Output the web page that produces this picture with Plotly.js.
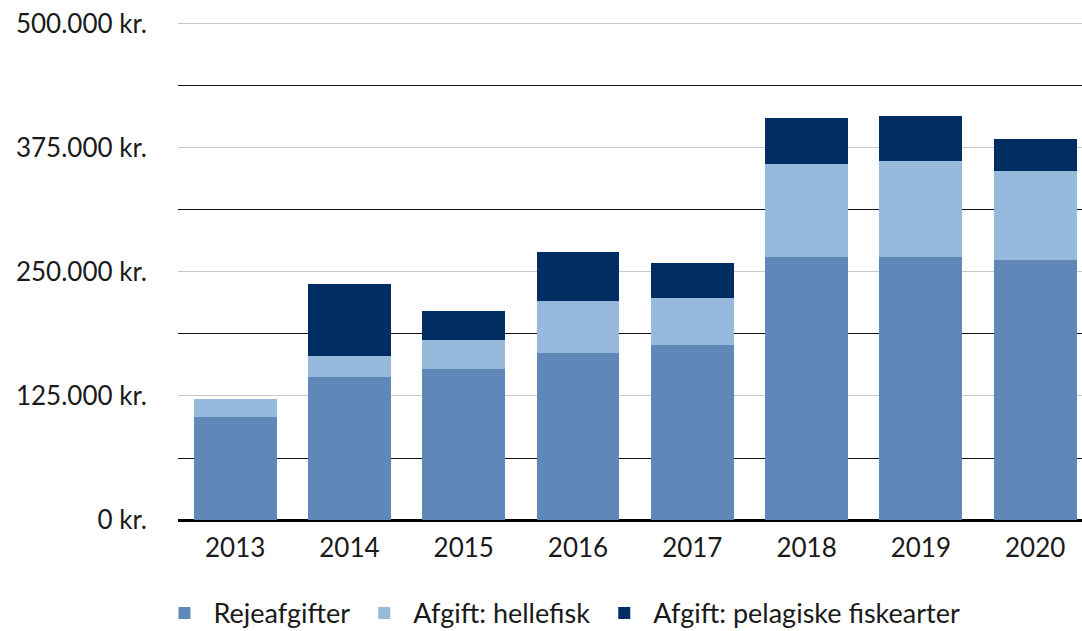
<!DOCTYPE html>
<html>
<head>
<meta charset="utf-8">
<script src="https://cdn.plot.ly/plotly-3.0.1.min.js"></script>
<style>
  html, body { margin: 0; padding: 0; background: #fff; }
  #chart { width: 1082px; height: 631px; }
</style>
</head>
<body>
<div id="chart"></div>
<script>
// År og afgifter (kr.)
var years = ['2013', '2014', '2015', '2016', '2017', '2018', '2019', '2020'];
var rejeafgifter = [104000, 144000, 152000, 168000, 176000, 265000, 265000, 262000];
var hellefisk = [18000, 21000, 29000, 53000, 48000, 94000, 97000, 90000];
var pelagiske = [0, 73000, 30000, 49000, 35000, 46000, 45000, 32000];
var yTicks = [0, 125000, 250000, 375000, 500000];

var names = ['Rejeafgifter', 'Afgift: hellefisk', 'Afgift: pelagiske fiskearter'];
var colors = ['#5f87b8', '#97b9db', '#002d62'];

var FONT = 'Lato, "Open Sans", sans-serif';

function kr(v) {
    return v.toString().replace(/\B(?=(\d{3})+(?!\d))/g, '.') + ' kr.';
}

var data = [rejeafgifter, hellefisk, pelagiske].map(function (vals, i) {
    return {
        x: years, y: vals, type: 'bar', name: names[i],
        marker: { color: colors[i] },
        hoverinfo: 'x+y+name'
    };
});

var layout = {
    width: 1082, height: 631,
    barmode: 'stack', bargap: 0.274,
    margin: { l: 178, r: 0, t: 19, b: 111 },
    paper_bgcolor: '#fff', plot_bgcolor: '#fff',
    font: { family: FONT, size: 25, color: '#1a1a1a' },
    xaxis: {
        type: 'category', range: [-0.5, 7.41],
        showgrid: false, showline: false, ticks: '',
        tickfont: { size: 26 }, ticklabelstandoff: 10
    },
    yaxis: {
        range: [0, 505000], tickvals: yTicks, ticktext: yTicks.map(kr),
        gridcolor: '#c8c8c8', gridwidth: 1.3,
        minor: { dtick: 62500, tick0: 0, showgrid: true, gridcolor: '#111', gridwidth: 1.3 },
        zeroline: true, zerolinecolor: '#000', zerolinewidth: 3,
        ticks: '', ticklabelstandoff: 30,
        tickfont: { size: 26 }
    },
    legend: {
        orientation: 'h', xref: 'container', x: 0.518, xanchor: 'center',
        yref: 'container', y: 0.028, yanchor: 'middle',
        font: { size: 27 }, itemwidth: 48, traceorder: 'normal'
    },
    showlegend: true
};

Plotly.newPlot('chart', data, layout, { displayModeBar: false, responsive: false });
</script>
</body>
</html>
